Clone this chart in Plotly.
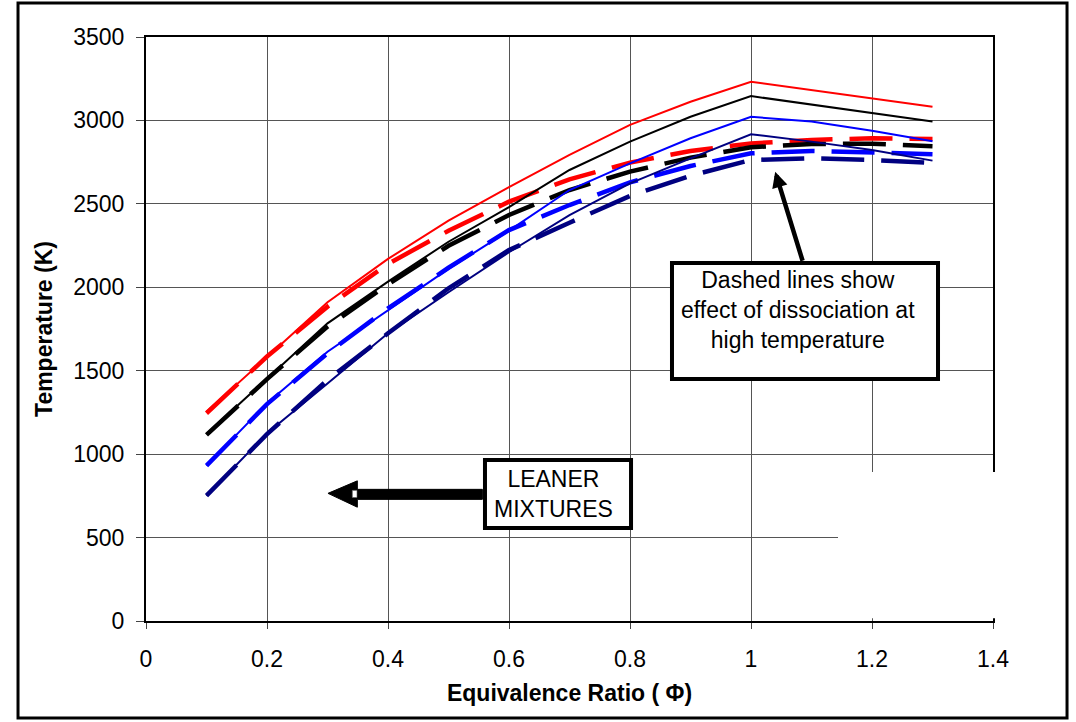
import plotly.graph_objects as go

# Equivalence ratio
phi = [0.1, 0.2, 0.3, 0.4, 0.5, 0.6, 0.7, 0.8, 0.9, 1.0, 1.1, 1.2, 1.3]

# Solid lines (no dissociation)
red_solid = [1254, 1585, 1910, 2170, 2400, 2600, 2793, 2973, 3112, 3232, 3182, 3132, 3082]
black_solid = [1121, 1454, 1784, 2034, 2273, 2480, 2703, 2873, 3022, 3146, 3096, 3042, 2993]
blue_solid = [931, 1305, 1614, 1864, 2110, 2340, 2583, 2743, 2893, 3022, 2993, 2938, 2875]
navy_solid = [751, 1125, 1424, 1724, 1970, 2210, 2433, 2623, 2773, 2917, 2873, 2823, 2759]

# Dashed lines (with dissociation)
red_dash = [1245, 1585, 1884, 2140, 2339, 2513, 2647, 2747, 2817, 2862, 2883, 2893, 2889]
black_dash = [1115, 1450, 1764, 2018, 2249, 2433, 2583, 2693, 2777, 2839, 2859, 2860, 2845]
blue_dash = [931, 1300, 1604, 1874, 2117, 2343, 2493, 2629, 2727, 2803, 2817, 2810, 2798]
navy_dash = [751, 1120, 1444, 1724, 1994, 2223, 2387, 2547, 2669, 2763, 2773, 2763, 2745]

x_ticks = [0, 0.2, 0.4, 0.6, 0.8, 1.0, 1.2, 1.4]
y_ticks = [0, 500, 1000, 1500, 2000, 2500, 3000, 3500]

colors = ["#FF0000", "#000000", "#0000FF", "#000080"]
FONT = "Arial, Liberation Sans, sans-serif"
FS = 23

fig = go.Figure()
for ys, c in zip([red_dash, black_dash, blue_dash, navy_dash], colors):
    fig.add_trace(go.Scatter(x=phi, y=ys, mode="lines",
                             line=dict(color=c, width=4.5, dash="43px,17px"),
                             showlegend=False, hoverinfo="skip"))
for ys, c in zip([red_solid, black_solid, blue_solid, navy_solid], colors):
    fig.add_trace(go.Scatter(x=phi, y=ys, mode="lines",
                             line=dict(color=c, width=2),
                             showlegend=False, hoverinfo="skip"))

shapes = []
# white area hiding grid at lower right
shapes.append(dict(type="rect", xref="paper", yref="paper", x0=0.817, x1=1.009,
                   y0=0.0045, y1=0.2551, fillcolor="white", line=dict(width=0), layer="above"))
# dashed-lines note box
shapes.append(dict(type="rect", xref="x", yref="y", x0=0.8694, x1=1.3091, y0=1450, y1=2146,
                   fillcolor="white", line=dict(color="black", width=4), layer="above"))
# leaner mixtures box
shapes.append(dict(type="rect", xref="x", yref="y", x0=0.5603, x1=0.8017, y0=557, y1=965,
                   fillcolor="white", line=dict(color="black", width=4), layer="above"))
# block arrow pointing left
shapes.append(dict(type="path", xref="x", yref="y",
                   path="M 0.3008,765 L 0.3493,840 L 0.3493,789 L 0.5560,789 L 0.5560,729 "
                        "L 0.3493,729 L 0.3493,682 Z",
                   fillcolor="black", line=dict(color="black", width=1), layer="above"))
shapes.append(dict(type="rect", xref="x", yref="y", x0=0.3410, x1=0.3488, y0=740, y1=783,
                   fillcolor="white", line=dict(color="#555", width=0.6), layer="above"))
# outer frame
shapes.append(dict(type="rect", xref="paper", yref="paper", x0=-0.1511, x1=1.0874,
                   y0=-0.1661, y1=1.0582, line=dict(color="black", width=3),
                   fillcolor="rgba(0,0,0,0)", layer="above"))

annotations = [
    dict(x=1.040, y=2693, ax=1.086, ay=2150, xref="x", yref="y", axref="x", ayref="y",
         text="", showarrow=True, arrowhead=2, arrowwidth=4.5, arrowsize=0.7,
         arrowcolor="black", standoff=0, startstandoff=0),
    dict(x=1.078, y=2135, xref="x", yref="y",
         text="Dashed lines show<br>effect of dissociation at<br>high temperature",
         showarrow=False, font=dict(family=FONT, size=FS, color="black"), align="center",
         xanchor="center", yanchor="top"),
    dict(x=0.6735, y=761, xref="x", yref="y", text="LEANER<br>MIXTURES", showarrow=False,
         font=dict(family=FONT, size=FS, color="black"), align="center",
         xanchor="center", yanchor="middle"),
]

fig.update_layout(
    width=1076, height=722,
    margin=dict(l=146, r=83, t=37, b=101),
    paper_bgcolor="white", plot_bgcolor="white",
    shapes=shapes, annotations=annotations,
    font=dict(family=FONT, size=FS, color="black"),
)
fig.update_xaxes(range=[0, 1.4], tickvals=x_ticks, ticktext=[("%g" % v) for v in x_ticks],
                 showgrid=True, gridcolor="#555", gridwidth=1,
                 showline=True, linecolor="black", linewidth=2, mirror=True,
                 ticks="outside", ticklen=6, tickcolor="#444", tickwidth=1,
                 ticklabelstandoff=10, zeroline=False,
                 tickfont=dict(family=FONT, size=FS, color="black"),
                 title=dict(text="<b>Equivalence Ratio ( Φ)</b>", standoff=14,
                            font=dict(family=FONT, size=FS, color="black")))
fig.update_yaxes(range=[0, 3500], tickvals=y_ticks, ticktext=[str(v) for v in y_ticks],
                 showgrid=True, gridcolor="#555", gridwidth=1,
                 showline=True, linecolor="black", linewidth=2, mirror=True,
                 ticks="outside", ticklen=8, tickcolor="#444", tickwidth=1,
                 ticklabelstandoff=7, zeroline=False,
                 tickfont=dict(family=FONT, size=FS, color="black"),
                 title=dict(text="<b>Temperature (K)</b>", standoff=14,
                            font=dict(family=FONT, size=FS, color="black")))

fig.write_html("out.html", config={"displayModeBar": False},
               post_script="document.body.style.margin='0px';document.body.style.overflow='hidden';")
